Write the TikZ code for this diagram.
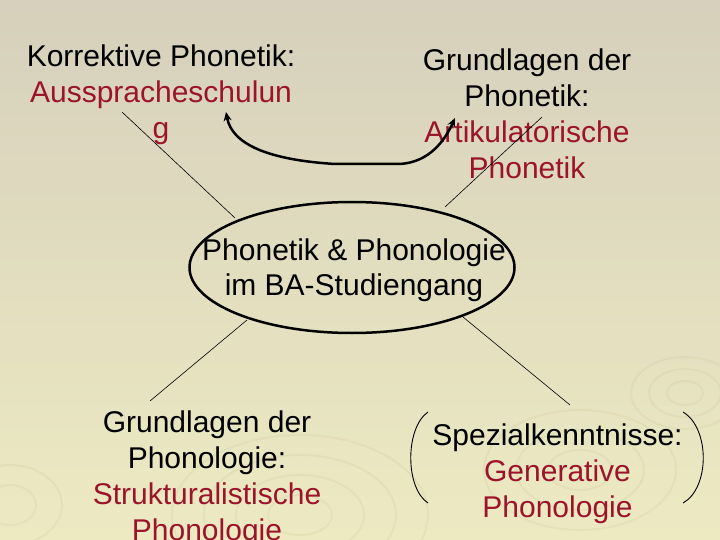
\documentclass[tikz,border=0pt]{standalone}
\usepackage{fontspec}
\setmainfont{Liberation Sans}
\usetikzlibrary{arrows.meta,shapes.geometric}
\definecolor{bgtop}{RGB}{214,208,188}
\definecolor{bgbot}{RGB}{237,234,194}
\definecolor{darkred}{RGB}{155,20,42}
\definecolor{ripple}{RGB}{205,198,150}
\tikzset{
  txt/.style={align=center, inner sep=0pt, anchor=north, font=\fontsize{30}{36}\selectfont},
  thin line/.style={line width=0.6pt, black},
  paren/.style={line width=0.9pt, black},
  ripl/.style={draw=ripple, line width=2pt, opacity=0.22},
}
\begin{document}
\begin{tikzpicture}[x=1pt,y=-1pt]
\shade[top color=bgtop, bottom color=bgbot] (0,0) rectangle (720,540);
\useasboundingbox (0,0) rectangle (720,540);
% ripples
\foreach \r in {12,24,36} {\draw[ripl] (685,393) ellipse ({1.5*\r} and {\r});}
\foreach \r in {20,40,60,80} {\draw[ripl] (300,515) ellipse ({1.6*\r} and {\r});}
\foreach \r in {20,40,60} {\draw[ripl] (580,470) ellipse ({1.6*\r} and {\r});}
\foreach \r in {20,40} {\draw[ripl] (10,505) ellipse ({1.3*\r} and {\r});}

% nodes
\node[txt] (tl) at (161,44.5) {Korrektive Phonetik:\\{\color{darkred}Ausspracheschulun}\\{\color{darkred}g}};
\node[txt] (tr) at (527,48.5) {Grundlagen der\\Phonetik:\\{\color{darkred}Artikulatorische}\\{\color{darkred}Phonetik}};
\node[txt] (bl) at (207,410.5) {Grundlagen der\\Phonologie:\\{\color{darkred}Strukturalistische}\\{\color{darkred}Phonologie}};
\node[txt] (br) at (557.5,423.5) {Spezialkenntnisse:\\{\color{darkred}Generative}\\{\color{darkred}Phonologie}};
\node[draw, ellipse, line width=2.5pt, minimum width=325pt, minimum height=131pt, inner sep=0pt] (c) at (352,267.5) {};
\node[txt, font=\fontsize{30}{35}\selectfont] (ct) at (354,238.5) {Phonetik \& Phonologie\\im BA-Studiengang};

% connector end points
\coordinate (tla) at (122,112);
\coordinate (tlb) at (235,218);
\coordinate (tra) at (542,117);
\coordinate (trb) at (445,207);
\coordinate (bla) at (247,320);
\coordinate (blb) at (150,401);
\coordinate (bra) at (463,317);
\coordinate (brb) at (570,405);
\draw[thin line] (tla) -- (tlb);
\draw[thin line] (tra) -- (trb);
\draw[thin line] (bla) -- (blb);
\draw[thin line] (bra) -- (brb);

% curved double arrow
\coordinate (arA) at (226,112);
\coordinate (arB) at (455,118);
\draw[line width=2.5pt, {Stealth[length=9pt,width=8pt]}-{Stealth[length=9pt,width=8pt]}]
  (arA) .. controls (232,145) and (270,160) .. (335,164) -- (400,164)
  .. controls (430,162) and (445,140) .. (arB);

% parentheses
\coordinate (lp1) at (428,412);
\coordinate (lp2) at (428,503);
\coordinate (rp1) at (683,412);
\coordinate (rp2) at (683,503);
\draw[paren] (lp1) .. controls (405,428) and (405,488) .. (lp2);
\draw[paren] (rp1) .. controls (710,428) and (710,488) .. (rp2);
\end{tikzpicture}
\end{document}
